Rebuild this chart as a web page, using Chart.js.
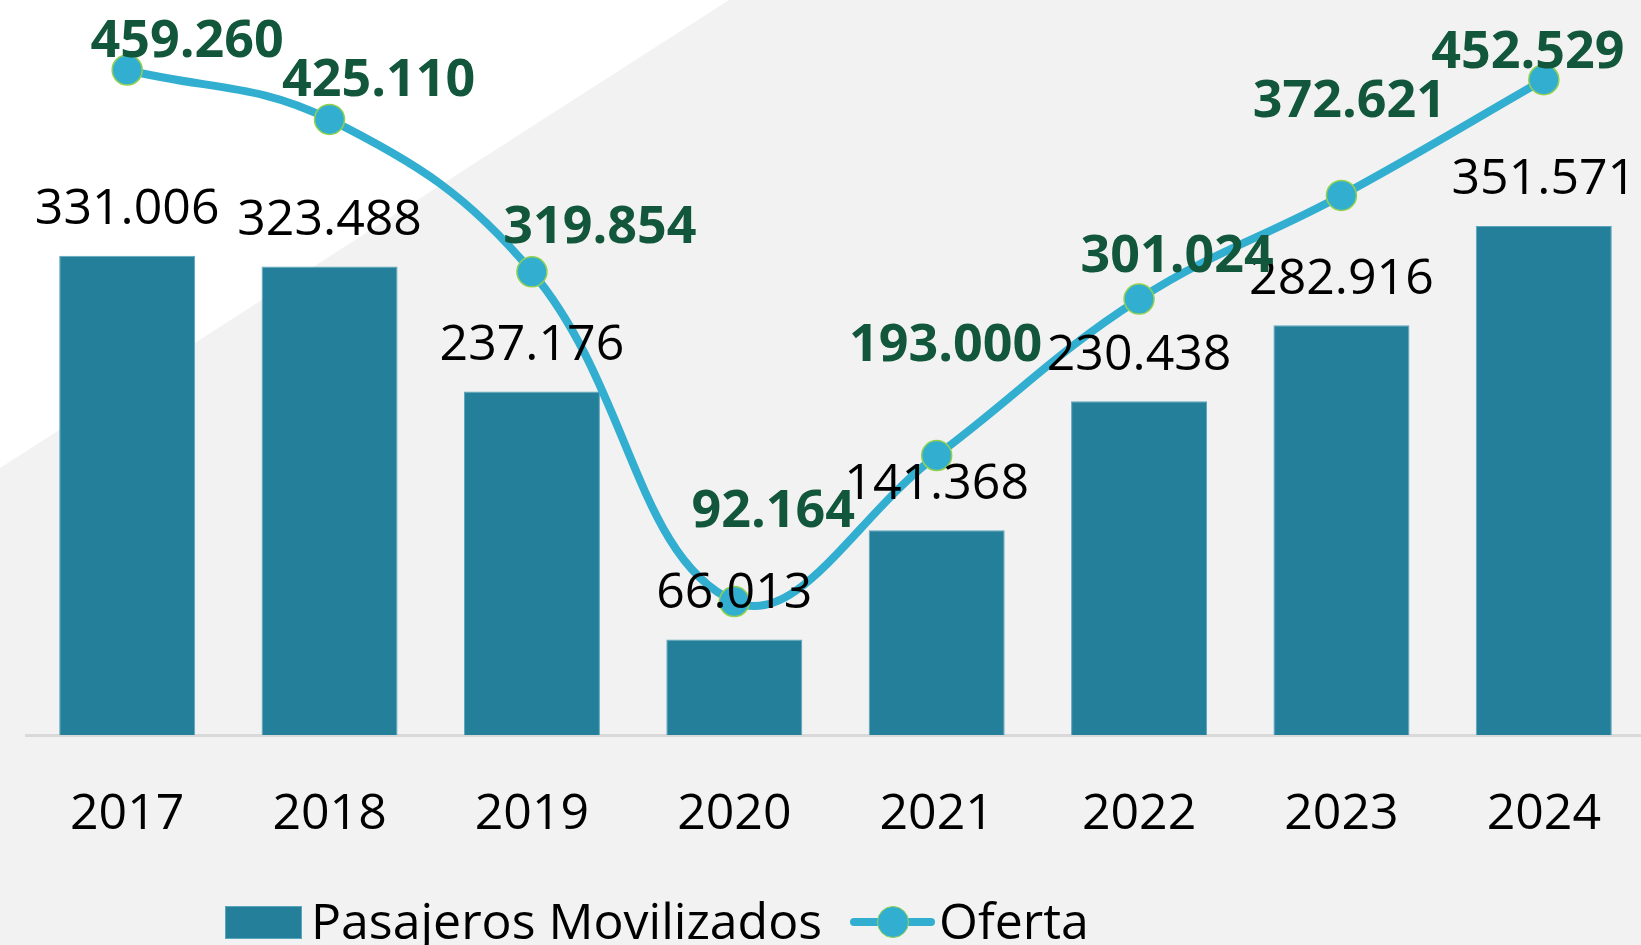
<!DOCTYPE html>
<html><head><meta charset="utf-8">
<script src="https://cdn.jsdelivr.net/npm/chart.js@4/dist/chart.umd.min.js"></script>
<style>
html,body{margin:0;padding:0;overflow:hidden;background:#f2f2f2;width:1641px;height:945px;}
#wrap{position:relative;width:1641px;height:945px;overflow:hidden;}
#c{position:absolute;left:0;top:0;}
#legend{position:absolute;left:0;top:0;width:1641px;height:945px;pointer-events:none;font-family:'Open Sans',sans-serif;color:#000;}
#legend .sw,#legend .tx,#legend .ln,#legend .dot{position:absolute;}
#legend .tx{font-size:50px;line-height:50px;white-space:nowrap;}
</style></head><body>
<div id="wrap"><canvas id="c" width="1645" height="945"></canvas><div id="legend"></div></div>
<script>
// ---- data ----
const categories = ['2017', '2018', '2019', '2020', '2021', '2022', '2023', '2024'];
const pasajeros = [331006, 323488, 237176, 66013, 141368, 230438, 282916, 351571];
const oferta = [459260, 425110, 319854, 92164, 193000, 301024, 372621, 452529];
const seriesNames = ['Pasajeros Movilizados', 'Oferta'];

// ---- style / layout ----
const BAR_COLOR = '#237f9a';
const LINE_COLOR = '#32afd0';
const MARKER_EDGE = '#92d050';
const GREEN_TEXT = '#12573b';
const FONT = "'Open Sans', sans-serif";
// label offsets for the Oferta labels (relative to each point)
const ofertaLabelDx = [60, 49, 68, 39, 9, 38, 8, -16];
const ofertaLabelDy = [-28, -38, -44, -89, -109, -42, -93, -27];
const barLabelDy = -46;

const fmt = n => String(n).replace(/\B(?=(\d{3})+(?!\d))/g, '.');

const bgPlugin = {
  id: 'bgShape',
  beforeDraw(chart) {
    const ctx = chart.ctx;
    ctx.save();
    ctx.fillStyle = '#f2f2f2';
    ctx.fillRect(0, 0, chart.width, chart.height);
    ctx.fillStyle = '#ffffff';
    ctx.beginPath();
    ctx.moveTo(0, 0); ctx.lineTo(729, 0); ctx.lineTo(0, 468); ctx.closePath();
    ctx.fill();
    ctx.restore();
  }
};

const valueLabels = {
  id: 'valueLabels',
  afterDatasetsDraw(chart) {
    const ctx = chart.ctx;
    ctx.save();
    ctx.textAlign = 'center';
    ctx.textBaseline = 'middle';
    const order = [1, 0];
    order.forEach(di => {
      const ds = chart.data.datasets[di];
      const meta = chart.getDatasetMeta(di);
      meta.data.forEach((el, i) => {
        const v = ds.data[i];
        if (ds.type === 'bar') {
          ctx.font = '50px ' + FONT;
          ctx.fillStyle = '#000';
          ctx.fillText(fmt(v), el.x, el.y + barLabelDy);
        } else {
          ctx.font = 'bold 52px ' + FONT;
          ctx.fillStyle = GREEN_TEXT;
          ctx.fillText(fmt(v), el.x + ofertaLabelDx[i], el.y + ofertaLabelDy[i]);
        }
      });
    });
    ctx.restore();
  }
};

const htmlLegend = {
  id: 'htmlLegend',
  afterUpdate(chart) {
    const box = document.getElementById('legend');
    box.innerHTML = '';
    const items = chart.options.plugins.legend.labels.generateLabels(chart);
    const byName = {};
    items.forEach(it => byName[it.text] = it);
    const b = byName[seriesNames[0]];
    const sw = document.createElement('div');
    sw.className = 'sw';
    Object.assign(sw.style, {left: '225px', top: '906px', width: '77px', height: '33px', background: b.fillStyle, boxSizing: 'border-box', border: '1px solid #5ba6bd'});
    box.appendChild(sw);
    const t1 = document.createElement('div');
    t1.className = 'tx'; t1.textContent = b.text;
    Object.assign(t1.style, {left: '311px', top: '895px'});
    box.appendChild(t1);
    const l = byName[seriesNames[1]];
    const ln = document.createElement('div');
    ln.className = 'ln';
    Object.assign(ln.style, {left: '850px', top: '918px', width: '85px', height: '8px', background: LINE_COLOR, borderRadius: '4px'});
    box.appendChild(ln);
    const dot = document.createElement('div');
    dot.className = 'dot';
    Object.assign(dot.style, {left: '877px', top: '906px', width: '32px', height: '32px', boxSizing: 'border-box', borderRadius: '50%', background: LINE_COLOR, border: '1.5px solid ' + MARKER_EDGE});
    box.appendChild(dot);
    const t2 = document.createElement('div');
    t2.className = 'tx'; t2.textContent = l.text;
    Object.assign(t2.style, {left: '939px', top: '895px'});
    box.appendChild(t2);
  }
};

new Chart(document.getElementById('c'), {
  data: {
    labels: categories,
    datasets: [
      {
        type: 'line', label: seriesNames[1], data: oferta, order: 0,
        borderColor: LINE_COLOR, borderWidth: 8, tension: 0.4,
        pointRadius: 15, pointBackgroundColor: LINE_COLOR,
        pointBorderColor: MARKER_EDGE, pointBorderWidth: 1.5, fill: false, clip: false
      },
      {
        type: 'bar', label: seriesNames[0], data: pasajeros, order: 1,
        backgroundColor: BAR_COLOR, borderColor: '#5ba6bd', borderWidth: 1,
        categoryPercentage: 1, barPercentage: 0.672
      }
    ]
  },
  options: {
    responsive: false, animation: false, devicePixelRatio: 1,
    layout: {autoPadding: false, padding: {top: 11, left: 26, right: 0, bottom: 0}},
    plugins: {legend: {display: false}, tooltip: {enabled: false}, title: {display: false}},
    scales: {
      x: {
        grid: {display: false, drawTicks: false},
        border: {display: true, color: '#d9d9d9', width: 3},
        ticks: {color: '#000', font: {family: FONT, size: 50, lineHeight: 1.2}, padding: 50, maxRotation: 0, autoSkip: false},
        afterFit(scale) { scale.height = 210; scale.paddingLeft = 0; scale.paddingRight = 0; }
      },
      y: {display: false, min: 0, max: 500000}
    }
  },
  plugins: [bgPlugin, valueLabels, htmlLegend]
});
</script>
</body></html>
